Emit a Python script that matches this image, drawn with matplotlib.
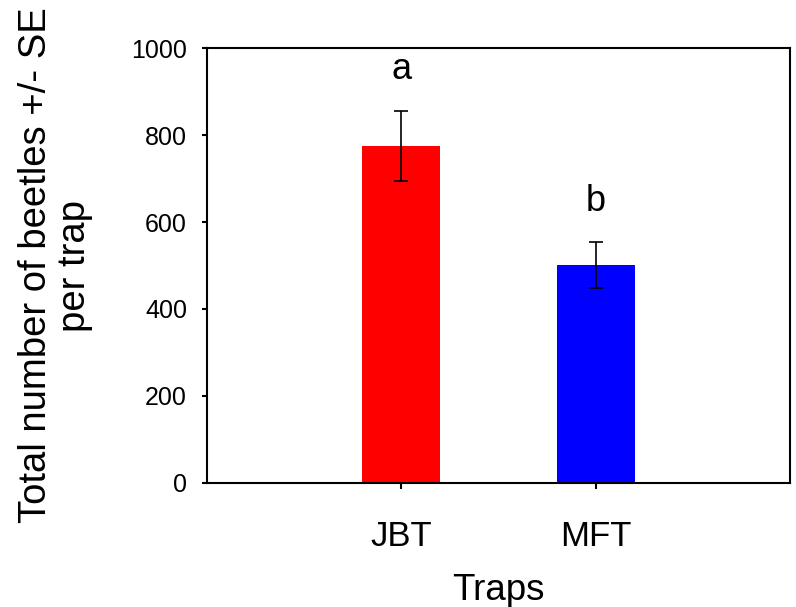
import matplotlib
matplotlib.use("Agg")
import matplotlib.pyplot as plt

categories = ["JBT", "MFT"]
means = [775, 501]
se = [80, 52]
letters = ["a", "b"]
colors = ["#ff0000", "#0000ff"]
yticks = [0, 200, 400, 600, 800, 1000]

plt.rcParams['font.family'] = ['Liberation Sans', 'DejaVu Sans']

fig = plt.figure(figsize=(7.96, 6.07), dpi=100)
ax = fig.add_axes([0.260, 0.2043, 0.7325, 0.7166])

x = list(range(len(categories)))
ax.bar(x, means, width=0.4, color=colors, zorder=2)
ax.errorbar(x, means, yerr=se, fmt='none', ecolor='black', elinewidth=1.2,
            capsize=5, capthick=1.2, zorder=3)
for xi, m, s, lt in zip(x, means, se, letters):
    ax.text(xi, m + s + 55, lt, ha='center', va='bottom', fontsize=26)

ax.set_xlim(-1, 2)
ax.set_ylim(0, 1000)
ax.set_yticks(yticks)
ax.set_xticks(x)
ax.set_xticklabels(categories, fontsize=25)
ax.tick_params(axis='y', labelsize=18, direction='out', length=3.6, width=1.5, pad=10.8)
ax.tick_params(axis='x', direction='out', length=4.3, width=1.5, pad=22)
for sp in ax.spines.values():
    sp.set_linewidth(1.5)

ax.set_xlabel("Traps", fontsize=26.5, labelpad=15)
ax.set_ylabel("Total number of beetles +/- SE\nper trap", fontsize=27.5, linespacing=1.1)
ax.yaxis.set_label_coords(-0.196, 0.5)

fig.savefig("out.png", dpi=100)
